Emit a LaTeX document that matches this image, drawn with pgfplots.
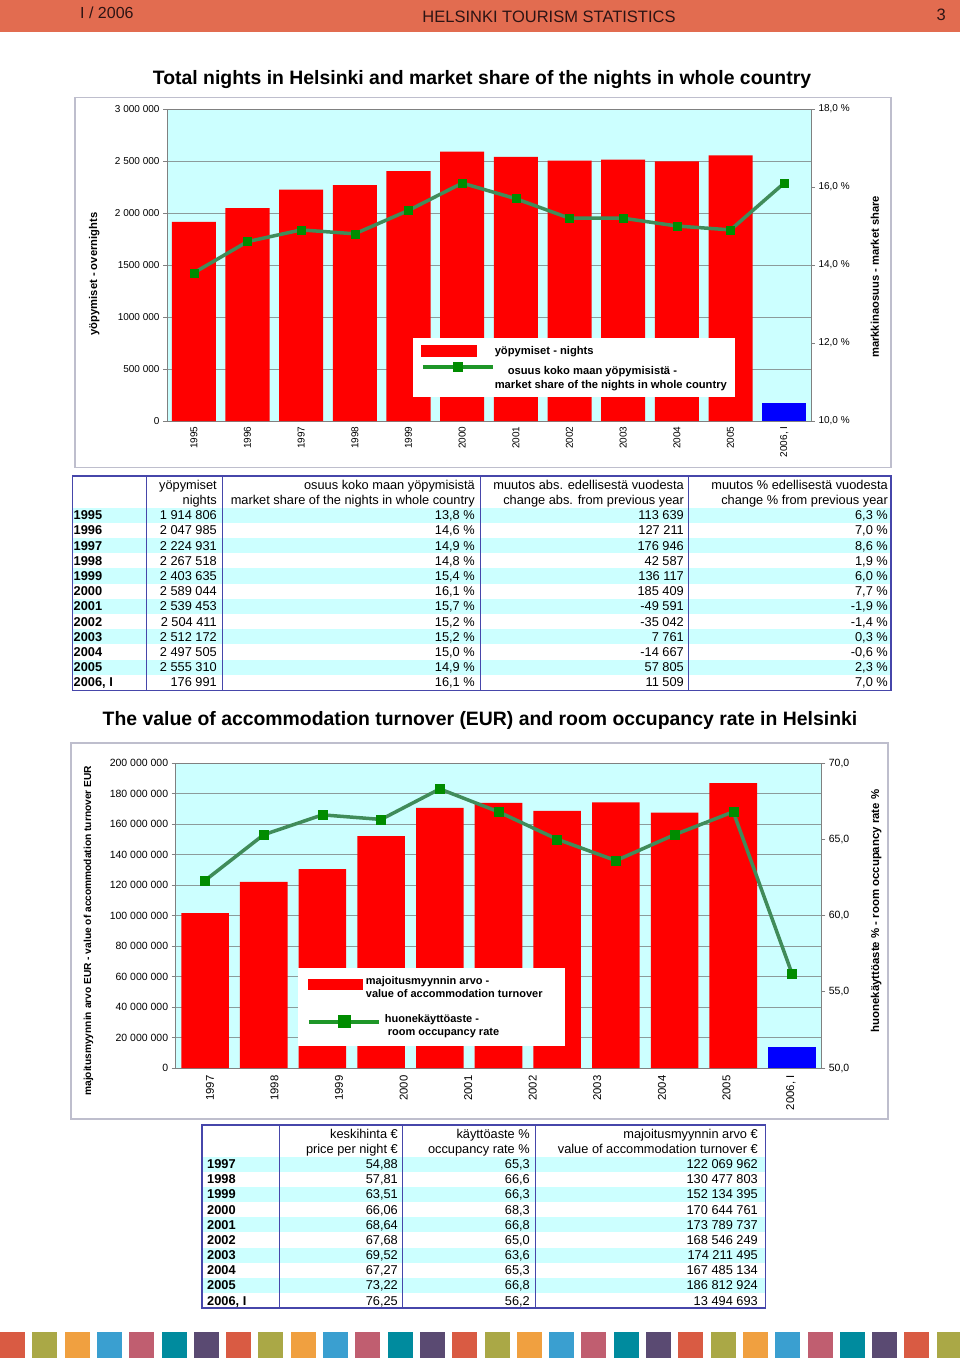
\documentclass[border=0pt]{standalone}
\usepackage{fontspec}
\setmainfont{Liberation Sans}
\usepackage{pgfplots}
\pgfplotsset{compat=1.18}

\definecolor{hdr}{RGB}{226,108,80}
\definecolor{hdrtxt}{RGB}{45,20,20}
\definecolor{plotbg}{RGB}{204,255,255}
\definecolor{rowcyan}{RGB}{204,255,255}
\definecolor{tblue}{RGB}{70,70,170}
\definecolor{framec}{RGB}{190,190,205}
\definecolor{gridc}{RGB}{140,155,155}
\definecolor{axisc}{RGB}{128,128,128}
\definecolor{barred}{RGB}{255,0,0}
\definecolor{barblue}{RGB}{0,0,255}
\definecolor{linegreen}{RGB}{64,140,90}
\definecolor{markgreen}{RGB}{0,140,0}
\definecolor{leggreen}{RGB}{30,150,40}
\definecolor{s0}{RGB}{217,91,67}
\definecolor{s1}{RGB}{170,168,70}
\definecolor{s2}{RGB}{240,160,64}
\definecolor{s3}{RGB}{58,159,208}
\definecolor{s4}{RGB}{192,94,112}
\definecolor{s5}{RGB}{0,139,158}
\definecolor{s6}{RGB}{90,74,114}

\newcommand\tickfont{\fontsize{10}{12}\selectfont}
\newcommand\tblfont{\fontsize{12.8}{15}\selectfont}

\pgfplotsset{
  common/.style={
    anchor=south west, scale only axis,
    axis line style={axisc, line width=0.8pt},
    tick align=outside, major tick length=4pt,
    every tick/.style={axisc, line width=0.6pt},
    y tick label style={font=\tickfont},
    x tick label style={rotate=90, anchor=east, font=\tickfont},
    scaled y ticks=false,
  },
}

\begin{document}
\begin{tikzpicture}
\begin{scope}[x=1pt,y=-1pt]
\fill[white] (0,0) rectangle (960,1358);
\useasboundingbox (0,0) rectangle (960,1358);
% header
\fill[hdr] (0,0) rectangle (960,31.5);
\node[anchor=west, text=hdrtxt, font=\fontsize{16}{18}\selectfont, inner sep=0pt] at (80,13) {I / 2006};
\node[text=hdrtxt, font=\fontsize{16.5}{18}\selectfont, inner sep=0pt] at (549,16.5) {HELSINKI TOURISM STATISTICS};
\node[anchor=east, text=hdrtxt, font=\fontsize{16.5}{18}\selectfont, inner sep=0pt] at (946,14.5) {3};
% titles
\node[font=\bfseries\fontsize{19.4}{22}\selectfont, inner sep=0pt] at (482,80) {Total nights in Helsinki and market share of the nights in whole country};
\node[font=\bfseries\fontsize{19.4}{22}\selectfont, inner sep=0pt] at (480,720) {The value of accommodation turnover (EUR) and room occupancy rate in Helsinki};
% chart frames
\draw[framec, line width=1.5pt] (75,97.5) rectangle (891,467.5);
\draw[framec, line width=1.5pt] (71,743) rectangle (888,1119);
% stripe
\foreach \i in {0,...,29}{
  \pgfmathtruncatemacro\c{mod(\i,7)}
  \fill[s\c] ({\i*32.3},1331.5) rectangle ({\i*32.3+25},1358);
}
\end{scope}

% ===== chart 1 =====
\begin{axis}[common,
  at={(167pt,-421pt)}, width=644pt, height=312pt,
  xmin=-0.5, xmax=11.5, ymin=0, ymax=3000000,
  axis background/.style={fill=plotbg},
  ymajorgrids, grid style={gridc, line width=0.5pt},
  ytick={0,500000,1000000,1500000,2000000,2500000,3000000},
  yticklabels={0,500 000,1000 000,1500 000,2 000 000,2 500 000,3 000 000},
  ytick pos=left,
  xtick={0,...,11},
  xticklabels={1995,1996,1997,1998,1999,2000,2001,2002,2003,2004,2005,{2006, I}},
  x tick label style={xshift=2pt},
  xtick style={draw=none},
  every axis y label/.style={at={(axis description cs:-0.113,0.471)}, rotate=90, anchor=center, font=\bfseries\fontsize{11.2}{13}\selectfont},
  ylabel={yöpymiset - overnights},
]
\addplot[ybar, bar width=0.82, bar shift=0pt, fill=barred, draw=none] coordinates {
(0,1914806) (1,2047985) (2,2224931) (3,2267518) (4,2403635) (5,2589044)
(6,2539453) (7,2504411) (8,2512172) (9,2497505) (10,2555310)};
\addplot[ybar, bar width=0.82, bar shift=0pt, fill=barblue, draw=none] coordinates {(11,176991)};
\end{axis}

\begin{axis}[common,
  at={(167pt,-421pt)}, width=644pt, height=312pt,
  xmin=-0.5, xmax=11.5, ymin=10, ymax=18,
  axis x line=none, axis y line*=right,
  ytick={10,12,14,16,18},
  yticklabels={{10,0 \%},{12,0 \%},{14,0 \%},{16,0 \%},{18,0 \%}},
  every axis y label/.style={at={(axis description cs:1.099,0.462)}, rotate=90, anchor=center, font=\bfseries\fontsize{11.2}{13}\selectfont},
  ylabel={markkinaosuus - market share},
  legend cell align=left,
  legend style={at={(axis description cs:0.381,0.266)}, anchor=north west,
    fill=white, draw=none, inner xsep=8pt, inner ysep=7pt, row sep=6pt,
    font=\bfseries\fontsize{11.2}{14}\selectfont,
    nodes={align=left, inner sep=0pt},
    /tikz/every odd column/.append style={column sep=0pt}},
]
\addlegendimage{legend image code/.code={\fill[barred] (-2pt,-5.5pt) rectangle (53pt,5.5pt);}}
\addlegendentry{yöpymiset - nights}
\addplot[color=linegreen, line width=3.5pt, mark=square*, mark size=4pt,
  mark options={fill=markgreen, draw=markgreen, line width=0.5pt},
  legend image code/.code={
    \draw[leggreen, line width=4pt, mark repeat=2, mark phase=2, mark=square*, mark size=4.5pt,
      mark options={fill=markgreen, draw=markgreen, line width=0.5pt}]
      plot coordinates {(0pt,11pt) (35pt,11pt) (70pt,11pt)};}
] coordinates {
(0,13.8) (1,14.6) (2,14.9) (3,14.8) (4,15.4) (5,16.1)
(6,15.7) (7,15.2) (8,15.2) (9,15.0) (10,14.9) (11,16.1)};
\addlegendentry{\hspace*{13pt}osuus koko maan yöpymisistä -\\market share of the nights in whole country}
\end{axis}

% ===== chart 2 =====
\begin{axis}[common,
  at={(175.7pt,-1068pt)}, width=645.6pt, height=305pt,
  xmin=-0.5, xmax=10.5, ymin=0, ymax=200000000,
  axis background/.style={fill=plotbg},
  ymajorgrids, grid style={gridc, line width=0.5pt},
  ytick={0,20000000,40000000,60000000,80000000,100000000,120000000,140000000,160000000,180000000,200000000},
  yticklabels={0,20 000 000,40 000 000,60 000 000,80 000 000,100 000 000,120 000 000,140 000 000,160 000 000,180 000 000,200 000 000},
  y tick label style={font=\fontsize{10.5}{12}\selectfont},
  ytick pos=left,
  xtick={0.05,1.15,2.25,3.35,4.45,5.55,6.65,7.75,8.85,9.95},
  xticklabels={1997,1998,1999,2000,2001,2002,2003,2004,2005,{2006, I}},
  x tick label style={font=\fontsize{11.3}{13}\selectfont, yshift=-2pt},
  xtick style={draw=none},
  every axis y label/.style={at={(axis description cs:-0.135,0.45)}, rotate=90, anchor=center, font=\bfseries\fontsize{10.2}{12}\selectfont},
  ylabel={majoitusmyynnin arvo EUR - value of accommodation turnover EUR},
]
\addplot[ybar, bar width=0.81, bar shift=0pt, fill=barred, draw=none] coordinates {
(0,101500000) (1,122069962) (2,130477803) (3,152134395) (4,170644761) (5,173789737)
(6,168546249) (7,174211495) (8,167485134) (9,186812924)};
\addplot[ybar, bar width=0.81, bar shift=0pt, fill=barblue, draw=none] coordinates {(10,13494693)};
\end{axis}

\begin{axis}[common,
  at={(175.7pt,-1068pt)}, width=645.6pt, height=305pt,
  xmin=-0.5, xmax=10.5, ymin=50, ymax=70,
  axis x line=none, axis y line*=right,
  ytick={50,55,60,65,70},
  yticklabels={{50,0},{55,0},{60,0},{65,0},{70,0}},
  y tick label style={font=\fontsize{10.5}{12}\selectfont},
  every axis y label/.style={at={(axis description cs:1.085,0.515)}, rotate=90, anchor=center, font=\bfseries\fontsize{11.4}{13}\selectfont},
  ylabel={huonekäyttöaste \% - room occupancy rate \%},
  legend cell align=left,
  legend style={at={(axis description cs:0.189,0.328)}, anchor=north west,
    fill=white, draw=none, inner xsep=9pt, inner ysep=8.5pt, row sep=16pt,
    font=\bfseries\fontsize{11}{12.8}\selectfont,
    nodes={align=left, inner sep=0pt},
    /tikz/every odd column/.append style={column sep=0pt}},
]
\addlegendimage{legend image code/.code={\fill[barred] (-1pt,-1pt) rectangle (53pt,9pt);}}
\addlegendentry{\hspace*{-15pt}majoitusmyynnin arvo -\\\hspace*{-15pt}value of accommodation turnover\hspace*{13pt}}
\addplot[color=linegreen, line width=3.5pt, mark=square*, mark size=4.5pt,
  mark options={fill=markgreen, draw=markgreen, line width=0.5pt},
  legend image code/.code={
    \draw[leggreen, line width=4pt, mark repeat=2, mark phase=2, mark=square*, mark size=6pt,
      mark options={fill=markgreen, draw=markgreen, line width=0.5pt}]
      plot coordinates {(0pt,4.5pt) (35pt,4.5pt) (70pt,4.5pt)};}
] coordinates {
(0,62.3) (1,65.3) (2,66.6) (3,66.3) (4,68.3) (5,66.8)
(6,65.0) (7,63.6) (8,65.3) (9,66.8) (10,56.2)};
\addlegendentry{\hspace*{4pt}huonekäyttöaste -\\\hspace*{7pt}room occupancy rate}
\end{axis}

% ===== tables =====
\begin{scope}[x=1pt,y=-1pt]
% table 1
\foreach \i in {0,2,...,10}
  \fill[rowcyan] (73,{507.6+15.2*\i}) rectangle (890.5,{522.8+15.2*\i});
\draw[tblue, line width=1.2pt] (72.5,476) rectangle (891,690.5);
\foreach \x in {146,222,480,688}
  \draw[tblue, line width=1pt] (\x,476) -- (\x,690.5);
\begin{scope}[every node/.style={font=\tblfont, inner sep=0pt, anchor=base east}]
\node at (217,489.5) {yöpymiset};
\node at (217,504) {nights};
\node at (475,489.5) {osuus koko maan yöpymisistä};
\node at (475,504) {market share of the nights in whole country};
\node at (684,489.5) {muutos abs. edellisestä vuodesta};
\node at (684,504) {change abs. from previous year};
\node at (888,489.5) {muutos \% edellisestä vuodesta};
\node at (888,504) {change \% from previous year};
\foreach \i/\yr/\a/\b/\c/\d in {
 0/1995/{1 914 806}/{13,8 \%}/{113 639}/{6,3 \%},
 1/1996/{2 047 985}/{14,6 \%}/{127 211}/{7,0 \%},
 2/1997/{2 224 931}/{14,9 \%}/{176 946}/{8,6 \%},
 3/1998/{2 267 518}/{14,8 \%}/{42 587}/{1,9 \%},
 4/1999/{2 403 635}/{15,4 \%}/{136 117}/{6,0 \%},
 5/2000/{2 589 044}/{16,1 \%}/{185 409}/{7,7 \%},
 6/2001/{2 539 453}/{15,7 \%}/{-49 591}/{-1,9 \%},
 7/2002/{2 504 411}/{15,2 \%}/{-35 042}/{-1,4 \%},
 8/2003/{2 512 172}/{15,2 \%}/{7 761}/{0,3 \%},
 9/2004/{2 497 505}/{15,0 \%}/{-14 667}/{-0,6 \%},
 10/2005/{2 555 310}/{14,9 \%}/{57 805}/{2,3 \%},
 11/{2006, I}/{176 991}/{16,1 \%}/{11 509}/{7,0 \%}}{
  \node[anchor=base west, font=\bfseries\tblfont] at (73.5,{519.6+15.2*\i}) {\yr};
  \node at (217,{519.6+15.2*\i}) {\a};
  \node at (475,{519.6+15.2*\i}) {\b};
  \node at (684,{519.6+15.2*\i}) {\c};
  \node at (888,{519.6+15.2*\i}) {\d};
}
\end{scope}

% table 2
\foreach \i in {0,2,...,8}
  \fill[rowcyan] (202.5,{1156.5+15.17*\i}) rectangle (765,{1171.7+15.17*\i});
\draw[tblue, line width=1.2pt] (202,1125) rectangle (765.5,1308);
\foreach \x in {279.5,402.5,535}
  \draw[tblue, line width=1pt] (\x,1125) -- (\x,1308);
\begin{scope}[every node/.style={font=\tblfont, inner sep=0pt, anchor=base east}]
\node at (398,1138.5) {keskihinta €};
\node at (398,1153.5) {price per night €};
\node at (530,1138.5) {käyttöaste \%};
\node at (530,1153.5) {occupancy rate \%};
\node at (758,1138.5) {majoitusmyynnin arvo €};
\node at (758,1153.5) {value of accommodation turnover €};
\foreach \i/\yr/\a/\b/\c in {
 0/1997/{54,88}/{65,3}/{122 069 962},
 1/1998/{57,81}/{66,6}/{130 477 803},
 2/1999/{63,51}/{66,3}/{152 134 395},
 3/2000/{66,06}/{68,3}/{170 644 761},
 4/2001/{68,64}/{66,8}/{173 789 737},
 5/2002/{67,68}/{65,0}/{168 546 249},
 6/2003/{69,52}/{63,6}/{174 211 495},
 7/2004/{67,27}/{65,3}/{167 485 134},
 8/2005/{73,22}/{66,8}/{186 812 924},
 9/{2006, I}/{76,25}/{56,2}/{13 494 693}}{
  \node[anchor=base west, font=\bfseries\tblfont] at (207,{1168.6+15.17*\i}) {\yr};
  \node at (398,{1168.6+15.17*\i}) {\a};
  \node at (530,{1168.6+15.17*\i}) {\b};
  \node at (758,{1168.6+15.17*\i}) {\c};
}
\end{scope}
\end{scope}
\end{tikzpicture}
\end{document}
